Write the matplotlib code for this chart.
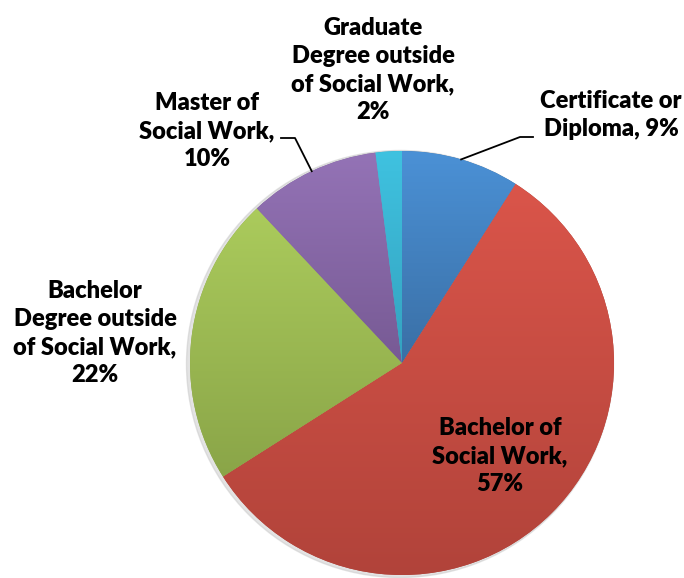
import matplotlib
matplotlib.use("Agg")
import matplotlib.pyplot as plt
import numpy as np
from matplotlib.colors import to_rgb

# share of respondents by highest qualification
categories = ["Certificate or\nDiploma", "Bachelor of\nSocial Work", "Bachelor\nDegree outside\nof Social Work",
              "Master of\nSocial Work", "Graduate\nDegree outside\nof Social Work"]
shares = [9, 57, 22, 10, 2]
# separator between name and percentage
separators = [", ", ",\n", ",\n", ",\n", ",\n"]

top_colors = ["#4b91d6", "#da554a", "#abcb5c", "#9473b6", "#3fc2e0"]
bottom_colors = ["#3a6fa5", "#b1433a", "#8aa548", "#775a94", "#34a2bf"]

W, H = 684, 578
fig = plt.figure(figsize=(W / 100, H / 100), dpi=100)
ax = fig.add_axes([0, 0, 1, 1])

cx, cy, r = 402, H - 363, 212

# soft shadow on the left rim
shadow = plt.Circle((cx - 2, cy - 1), r + 1.5, color="#c8c8c8", alpha=0.5, zorder=0)
ax.add_patch(shadow)

wedges, _ = ax.pie(shares, center=(cx, cy), radius=r, startangle=90,
                   counterclock=False, frame=True)

# vertical gradient on each slice
for w, c0, c1 in zip(wedges, top_colors, bottom_colors):
    verts = w.get_path().vertices
    x0, x1 = verts[:, 0].min(), verts[:, 0].max()
    y0, y1 = verts[:, 1].min(), verts[:, 1].max()
    t = np.linspace(0, 1, 256)[:, None]
    a, b = np.array(to_rgb(c0)), np.array(to_rgb(c1))
    grad = (a * (1 - t) + b * t)[:, None, :]
    w.set_facecolor(c1)
    w.set_edgecolor("none")
    im = ax.imshow(grad, extent=(x0, x1, y0, y1), origin="upper", aspect="auto",
                   zorder=2, interpolation="bilinear")
    im.set_clip_path(w)
ax.set_xlim(0, W)
ax.set_ylim(0, H)
ax.set_aspect("equal")
ax.axis("off")

labels = [f"{c}{s}{v}%" for c, s, v in zip(categories, separators, shares)]
label_pos = [(611, H - 115), (500, H - 456), (95, H - 333), (207, H - 131), (373, H - 70)]

font = dict(fontsize=17, fontweight="heavy", family=["Lato", "DejaVu Sans"],
            ha="center", va="center", linespacing=1.33, zorder=5)
for lab, (lx, ly) in zip(labels, label_pos):
    ax.text(lx, ly, lab, **font)

# leader lines for the slices labelled outside the pie
fracs = np.cumsum([0] + shares) / sum(shares)
def rim_point(i):
    mid = (fracs[i] + fracs[i + 1]) / 2
    ang = np.deg2rad(90 - 360 * mid)
    return cx + r * np.cos(ang), cy + r * np.sin(ang)

px, py = rim_point(0)
ax.plot([px, 520, 533], [py, H - 137, H - 137], color="black", lw=1.3, zorder=4)
px, py = rim_point(3)
ax.plot([px, 295, 281], [py, H - 138, H - 138], color="black", lw=1.3, zorder=4)

fig.savefig("out.png", dpi=100)
